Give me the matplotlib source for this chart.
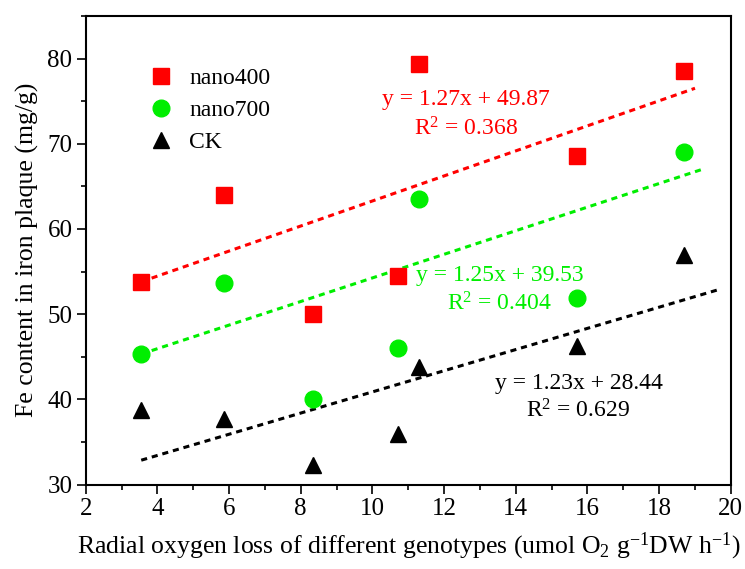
import numpy as np
import matplotlib
matplotlib.use("Agg")
from matplotlib import pyplot as plt
from matplotlib.ticker import MultipleLocator

plt.rcParams['font.family'] = ['Liberation Serif', 'DejaVu Serif']
plt.rcParams['mathtext.fontset'] = 'custom'
plt.rcParams['mathtext.rm'] = 'Liberation Serif'
plt.rcParams['mathtext.it'] = 'Liberation Serif:italic'

# radial oxygen loss of the seven genotypes
rol = [3.55, 5.85, 8.35, 10.7, 11.3, 15.7, 18.68]

# Fe content in iron plaque
nano400 = [53.8, 64.0, 50.0, 54.5, 79.3, 68.6, 78.5]
nano700 = [45.3, 53.7, 40.0, 46.0, 63.5, 51.9, 69.0]
ck = [38.7, 37.7, 32.3, 35.9, 43.8, 46.2, 56.9]

# fitted lines as drawn: slope, intercept, end of line
fit_slope = [1.47, 1.385, 1.243]
fit_icpt = [48.58, 40.4, 28.44]
fit_end = [19.0, 19.24, 19.72]

eq_text = ["y = 1.27x + 49.87\nR$^2$ = 0.368",
           "y = 1.25x + 39.53\nR$^2$ = 0.404",
           "y = 1.23x + 28.44\nR$^2$ = 0.629"]

colors = ['#ff0000', '#00ee00', '#000000']
names = ['nano400', 'nano700', 'CK']
markers = ['s', 'o', '^']
msizes = [11, 12, 12]

fig = plt.figure(figsize=(7.45, 5.69), dpi=100)
ax = fig.add_axes([0.115, 0.1485, 0.866, 0.8235])

for i, data in enumerate([nano400, nano700, ck]):
    ax.plot(rol, data, linestyle='none', marker=markers[i], markersize=msizes[i],
            color=colors[i], label=names[i], zorder=3)
    xs = np.array([rol[0], fit_end[i]])
    ax.plot(xs, fit_slope[i] * xs + fit_icpt[i], color=colors[i], lw=2.2,
            linestyle=(0, (2, 1.6)), zorder=2)

# equation labels
ax.text(12.6, 73.4, eq_text[0], color=colors[0], fontsize=17, ha='center', va='center', linespacing=1.45)
ax.text(13.55, 52.8, eq_text[1], color=colors[1], fontsize=17, ha='center', va='center', linespacing=1.3)
ax.text(15.75, 40.2, eq_text[2], color=colors[2], fontsize=17, ha='center', va='center', linespacing=1.3)

ax.set_xlim(2, 20)
ax.set_ylim(30, 85)
ax.xaxis.set_major_locator(MultipleLocator(2))
ax.xaxis.set_minor_locator(MultipleLocator(1))
ax.yaxis.set_major_locator(MultipleLocator(10))
ax.yaxis.set_minor_locator(MultipleLocator(5))
ax.tick_params(which='major', direction='out', length=6.5, width=1.2, labelsize=18, pad=3)
ax.tick_params(which='minor', direction='out', length=3.5, width=1.2)
for s in ax.spines.values():
    s.set_linewidth(1.5)

ax.set_xlabel(r'Radial oxygen loss of different genotypes (umol O$_2$ g$^{-1}$DW h$^{-1}$)', fontsize=18.5, labelpad=8)
ax.set_ylabel('Fe content in iron plaque (mg/g)', fontsize=18.5, labelpad=6)

ax.legend(frameon=False, loc='upper left', bbox_to_anchor=(0.08, 0.91), fontsize=17,
          handletextpad=0.6, labelspacing=0.45, borderaxespad=0, handlelength=1.2)

fig.savefig('out.png', dpi=100)
